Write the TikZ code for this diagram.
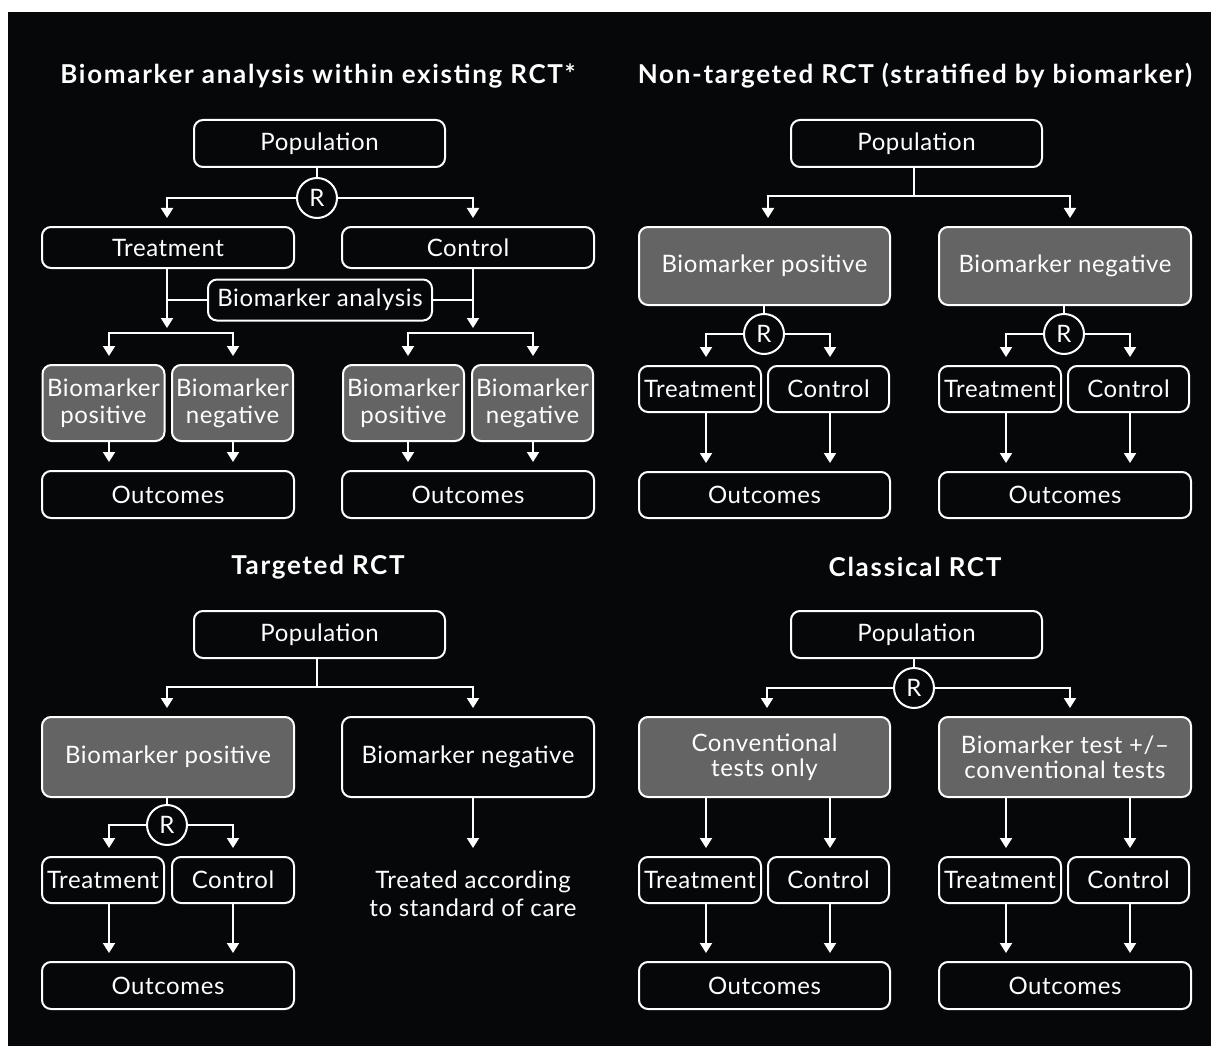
\documentclass[tikz,border=0pt]{standalone}
\usepackage{fontspec}
\setmainfont{Lato}
\newfontfamily\bodyfont[LetterSpace=2.5]{Lato}
\newfontfamily\headfont[LetterSpace=6.5]{Lato}
\usetikzlibrary{arrows.meta}
\definecolor{bgblack}{RGB}{5,7,9}
\definecolor{boxgray}{RGB}{100,100,100}
\tikzset{
  box/.style={draw=white, line width=2pt, rounded corners=9pt, text=white,
    align=center, inner sep=0pt, font=\bodyfont\fontsize{24}{28}\selectfont},
  plain/.style={box, fill=bgblack},
  shaded/.style={box, fill=boxgray},
  rnode/.style={circle, draw=white, line width=2pt, fill=bgblack, text=white,
    minimum size=40pt, inner sep=0pt, font=\bodyfont\fontsize{24}{28}\selectfont},
  ptitle/.style={text=white, font=\headfont\bfseries\fontsize{26}{30}\selectfont},
  link/.style={draw=white, line width=2pt},
  arr/.style={link, -{Triangle[width=12pt,length=10pt]}, shorten >=8pt},
  arrs/.style={link, -{Triangle[width=12pt,length=10pt]}, shorten >=5pt},
}
\begin{document}
\begin{tikzpicture}[x=1pt, y=-1pt]
% page and dark panel
\fill[white] (0,0) rectangle (1211,1046);
\fill[bgblack] (8,12) rectangle (1211,1046);
\useasboundingbox (0,0) rectangle (1211,1046);

% ---------- titles ----------
\node[ptitle] (t1) at (318,76) {Biomarker analysis within existing RCT*};
\node[ptitle] (t2) at (915,76) {Non-targeted RCT (stratified by biomarker)};
\node[ptitle] (t3) at (318,567) {Targeted RCT};
\node[ptitle] (t4) at (915,567) {Classical RCT};

% ---------- biomarker analysis within existing RCT ----------
\node[plain, minimum width=251pt, minimum height=47pt] (pop1) at (319.5,143.5) {Population};
\node[rnode] (r1) at (317,198) {R};
\node[plain, minimum width=252pt, minimum height=41pt] (tr1) at (168,247.5) {Treatment};
\node[plain, minimum width=252pt, minimum height=41pt] (ct1) at (468,247.5) {Control};
\node[plain, minimum width=224pt, minimum height=41pt] (ba1) at (320,300) {Biomarker analysis};
\node[shaded, minimum width=122pt, minimum height=76pt] (bp1a) at (103.5,403) {Biomarker\\[-1pt]positive};
\node[shaded, minimum width=121pt, minimum height=76pt] (bn1a) at (232.5,403) {Biomarker\\[-1pt]negative};
\node[shaded, minimum width=121pt, minimum height=76pt] (bp1b) at (403.5,403) {Biomarker\\[-1pt]positive};
\node[shaded, minimum width=121pt, minimum height=76pt] (bn1b) at (532.5,403) {Biomarker\\[-1pt]negative};
\node[plain, minimum width=252pt, minimum height=47pt] (oc1a) at (168,494.5) {Outcomes};
\node[plain, minimum width=252pt, minimum height=47pt] (oc1b) at (468,494.5) {Outcomes};
\coordinate (s1a) at (167,333);
\coordinate (s1b) at (473,333);

\draw[link] (pop1.south -| r1) -- (r1);
\draw[arr] (r1.west) -| (tr1.north -| s1a);
\draw[arr] (r1.east) -| (ct1.north -| s1b);
\draw[arrs] (tr1.south -| s1a) -- (s1a);
\draw[arrs] (ct1.south -| s1b) -- (s1b);
\draw[link] (ba1.west) -- (ba1.west -| s1a);
\draw[link] (ba1.east) -- (ba1.east -| s1b);
\draw[arr] (s1a) -| ([xshift=5.5pt]bp1a.north);
\draw[arr] (s1a) -| ([xshift=0.5pt]bn1a.north);
\draw[arr] (s1b) -| ([xshift=4.5pt]bp1b.north);
\draw[arr] (s1b) -| ([xshift=0.5pt]bn1b.north);
\draw[arr] ([xshift=5.5pt]bp1a.south) -- ([xshift=5.5pt]bp1a.south |- oc1a.north);
\draw[arr] ([xshift=0.5pt]bn1a.south) -- ([xshift=0.5pt]bn1a.south |- oc1a.north);
\draw[arr] ([xshift=4.5pt]bp1b.south) -- ([xshift=4.5pt]bp1b.south |- oc1b.north);
\draw[arr] ([xshift=0.5pt]bn1b.south) -- ([xshift=0.5pt]bn1b.south |- oc1b.north);

% ---------- non-targeted RCT ----------
\node[plain, minimum width=251pt, minimum height=47pt] (pop2) at (916.5,143.5) {Population};
\coordinate (j2) at (914,196);
\node[shaded, minimum width=251pt, minimum height=78pt] (bp2) at (764.5,266) {Biomarker positive};
\node[shaded, minimum width=252pt, minimum height=78pt] (bn2) at (1065,266) {Biomarker negative};
\node[rnode] (r2a) at (764,334) {R};
\node[rnode] (r2b) at (1064,334) {R};
\node[plain, minimum width=122pt, minimum height=46pt] (tr2a) at (700,389) {Treatment};
\node[plain, minimum width=121pt, minimum height=46pt] (ct2a) at (828.5,389) {Control};
\node[plain, minimum width=122pt, minimum height=46pt] (tr2b) at (1000,389) {Treatment};
\node[plain, minimum width=121pt, minimum height=46pt] (ct2b) at (1128.5,389) {Control};
\node[plain, minimum width=251pt, minimum height=46pt] (oc2a) at (764.5,495) {Outcomes};
\node[plain, minimum width=252pt, minimum height=46pt] (oc2b) at (1065,495) {Outcomes};

\draw[link] (pop2.south -| j2) -- (j2);
\draw[arr] (j2) -| ([xshift=3.5pt]bp2.north);
\draw[arr] (j2) -| ([xshift=5pt]bn2.north);
\draw[link] (bp2.south -| r2a) -- (r2a);
\draw[link] (bn2.south -| r2b) -- (r2b);
\draw[arr] (r2a.west) -| ([xshift=6pt]tr2a.north);
\draw[arr] (r2a.east) -| ([xshift=1.5pt]ct2a.north);
\draw[arr] (r2b.west) -| ([xshift=6pt]tr2b.north);
\draw[arr] (r2b.east) -| ([xshift=1.5pt]ct2b.north);
\draw[arr] ([xshift=6pt]tr2a.south) -- ([xshift=6pt]tr2a.south |- oc2a.north);
\draw[arr] ([xshift=1.5pt]ct2a.south) -- ([xshift=1.5pt]ct2a.south |- oc2a.north);
\draw[arr] ([xshift=6pt]tr2b.south) -- ([xshift=6pt]tr2b.south |- oc2b.north);
\draw[arr] ([xshift=1.5pt]ct2b.south) -- ([xshift=1.5pt]ct2b.south |- oc2b.north);

% ---------- targeted RCT ----------
\node[plain, minimum width=251pt, minimum height=47pt] (pop3) at (319.5,634.5) {Population};
\coordinate (j3) at (317,687);
\node[shaded, minimum width=252pt, minimum height=80pt] (bp3) at (168,757) {Biomarker positive};
\node[plain, minimum width=252pt, minimum height=80pt] (bn3) at (468,757) {Biomarker negative};
\node[rnode] (r3) at (167,825) {R};
\node[plain, minimum width=122pt, minimum height=46pt] (tr3) at (103,880) {Treatment};
\node[plain, minimum width=122pt, minimum height=46pt] (ct3) at (233,880) {Control};
\node[plain, minimum width=252pt, minimum height=47pt] (oc3) at (168,985.5) {Outcomes};
\node[text=white, align=center, inner sep=0pt, font=\bodyfont\fontsize{24}{28}\selectfont]
  (soc3) at (473,894) {Treated according\\to standard of care};

\draw[link] (pop3.south -| j3) -- (j3);
\draw[arr] (j3) -| ([xshift=-1pt]bp3.north);
\draw[arr] (j3) -| ([xshift=5pt]bn3.north);
\draw[link] (bp3.south -| r3) -- (r3);
\draw[arr] (r3.west) -| ([xshift=6pt]tr3.north);
\draw[arr] (r3.east) -| ([xshift=0pt]ct3.north);
\draw[arr] ([xshift=6pt]tr3.south) -- ([xshift=6pt]tr3.south |- oc3.north);
\draw[arr] (ct3.south) -- (ct3.south |- oc3.north);
\draw[arr] ([xshift=5pt]bn3.south) -- ([xshift=5pt]bn3.south |- tr3.north);

% ---------- classical RCT ----------
\node[plain, minimum width=251pt, minimum height=47pt] (pop4) at (916.5,634.5) {Population};
\node[rnode] (r4) at (914,688) {R};
\node[shaded, minimum width=251pt, minimum height=80pt] (cv4) at (764.5,757) {Conventional\\[-3pt]tests only};
\node[shaded, minimum width=252pt, minimum height=80pt] (bt4) at (1065,757) {Biomarker test +/–\\[-3pt]conventional tests};
\node[plain, minimum width=122pt, minimum height=46pt] (tr4a) at (700,880) {Treatment};
\node[plain, minimum width=121pt, minimum height=46pt] (ct4a) at (828.5,880) {Control};
\node[plain, minimum width=122pt, minimum height=46pt] (tr4b) at (1000,880) {Treatment};
\node[plain, minimum width=121pt, minimum height=46pt] (ct4b) at (1128.5,880) {Control};
\node[plain, minimum width=251pt, minimum height=47pt] (oc4a) at (764.5,985.5) {Outcomes};
\node[plain, minimum width=252pt, minimum height=47pt] (oc4b) at (1065,985.5) {Outcomes};

\draw[link] (pop4.south -| r4) -- (r4);
\draw[arr] (r4.west) -| ([xshift=2.5pt]cv4.north);
\draw[arr] (r4.east) -| ([xshift=5pt]bt4.north);
\draw[arr] ([xshift=6pt]tr4a.north |- cv4.south) -- ([xshift=6pt]tr4a.north);
\draw[arr] ([xshift=1.5pt]ct4a.north |- cv4.south) -- ([xshift=1.5pt]ct4a.north);
\draw[arr] ([xshift=6pt]tr4b.north |- bt4.south) -- ([xshift=6pt]tr4b.north);
\draw[arr] ([xshift=1.5pt]ct4b.north |- bt4.south) -- ([xshift=1.5pt]ct4b.north);
\draw[arr] ([xshift=6pt]tr4a.south) -- ([xshift=6pt]tr4a.south |- oc4a.north);
\draw[arr] ([xshift=1.5pt]ct4a.south) -- ([xshift=1.5pt]ct4a.south |- oc4a.north);
\draw[arr] ([xshift=6pt]tr4b.south) -- ([xshift=6pt]tr4b.south |- oc4b.north);
\draw[arr] ([xshift=1.5pt]ct4b.south) -- ([xshift=1.5pt]ct4b.south |- oc4b.north);
\end{tikzpicture}
\end{document}
